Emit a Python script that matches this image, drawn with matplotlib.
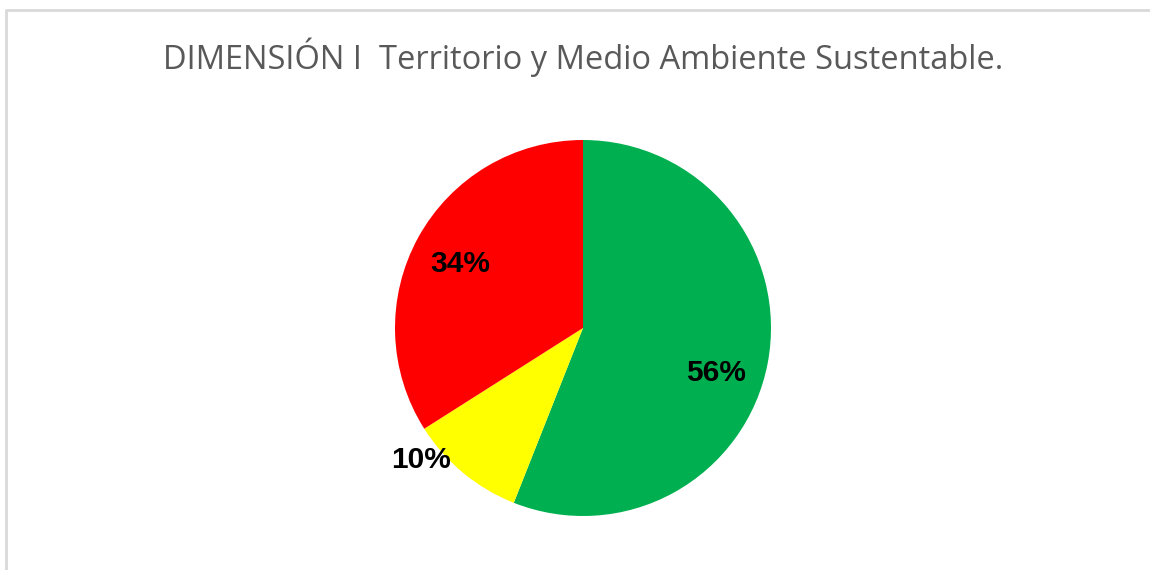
import matplotlib
matplotlib.use("Agg")
import matplotlib.pyplot as plt
import numpy as np

# data
categories = ["Cumple", "Parcial", "No cumple"]
values = [56, 10, 34]
colors = ["#00B050", "#FFFF00", "#FF0000"]
title = "DIMENSIÓN I  Territorio y Medio Ambiente Sustentable."

W, H = 1150, 570
CENTER = (583, H - 328)
RADIUS = 188
# label placement (fraction of radius, angle in degrees) like Excel's best fit
label_pos = [(0.74, -17.5), (1.10, -141.5), (0.745, 151.2)]

fig = plt.figure(figsize=(W / 100, H / 100), dpi=100)
ax = fig.add_axes([0, 0, 1, 1])

wedges, texts, autotexts = ax.pie(values, colors=colors, startangle=90, counterclock=False,
                                  center=CENTER, radius=RADIUS, autopct="%d%%",
                                  textprops=dict(fontsize=21.5, fontweight="bold",
                                                 family="Liberation Sans", color="black"))

for t, (r, ang) in zip(autotexts, label_pos):
    a = np.radians(ang)
    t.set_position((CENTER[0] + r * RADIUS * np.cos(a), CENTER[1] + r * RADIUS * np.sin(a)))
    t.set_ha("center")
    t.set_va("center_baseline")

ax.set_xlim(0, W)
ax.set_ylim(0, H)
ax.set_aspect("equal")
ax.axis("off")

# chart frame
ax.plot([5.5, 5.5, W + 5], [-5, H - 9.5, H - 9.5], color="#D9D9D9", lw=2, clip_on=False)

ax.text(583, H - 57, title, ha="center", va="center", fontsize=23.5,
        family="Open Sans", color="#595959")

fig.savefig("out.png", dpi=100)
